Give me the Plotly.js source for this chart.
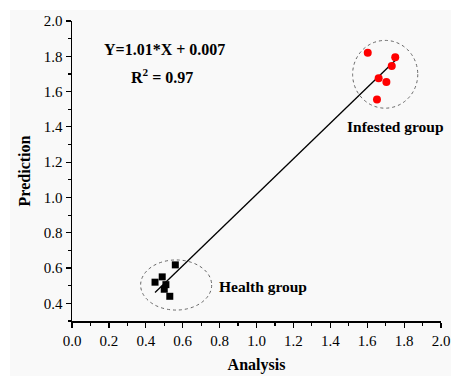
<!DOCTYPE html>
<html>
<head>
<meta charset="utf-8">
<script src="https://cdn.plot.ly/plotly-3.0.1.min.js"></script>
<style>
html,body{margin:0;padding:0;background:#ffffff;}
#chart{position:absolute;left:10px;top:10px;width:441px;height:366px;}
</style>
</head>
<body>
<div id="chart"></div>
<script>
// Data
const healthX = [0.560, 0.489, 0.450, 0.509, 0.500, 0.530];
const healthY = [0.618, 0.550, 0.520, 0.506, 0.480, 0.440];
const infestedX = [1.603, 1.752, 1.733, 1.662, 1.704, 1.653];
const infestedY = [1.820, 1.795, 1.745, 1.675, 1.655, 1.555];
const fitX = [0.45, 1.76];
const fitY = [0.462, 1.785];
const equationText = "Y=1.01*X + 0.007";
const r2Text = "R<sup>2</sup> = 0.97";
const xTitle = "Analysis";
const yTitle = "Prediction";

const F = "Liberation Serif, Times New Roman, serif";

const traces = [
  {x: fitX, y: fitY, mode: 'lines', type: 'scatter',
   line: {color: '#000000', width: 1.3}, hoverinfo: 'skip', showlegend: false},
  {x: healthX, y: healthY, mode: 'markers', type: 'scatter', name: 'Health group',
   marker: {symbol: 'square', size: 7, color: '#000000'}, showlegend: false},
  {x: infestedX, y: infestedY, mode: 'markers', type: 'scatter', name: 'Infested group',
   marker: {symbol: 'circle', size: 8, color: '#ff0000'}, showlegend: false}
];

const axisCommon = {
  showgrid: false, zeroline: false, showline: true, linecolor: '#000000', linewidth: 1.5,
  ticks: 'outside', ticklen: 5, tickwidth: 1.2, tickcolor: '#000000',
  tickfont: {family: F, size: 15, color: '#000000'},
  mirror: false
};

const layout = {
  width: 441, height: 366,
  margin: {l: 62, r: 10, t: 11, b: 55},
  paper_bgcolor: '#f9f9f9', plot_bgcolor: '#f9f9f9',
  showlegend: false,
  xaxis: Object.assign({}, axisCommon, {
    range: [0, 2.0], tick0: 0, dtick: 0.2, tickformat: '.1f',
    minor: {dtick: 0.1, tick0: 0, ticks: 'outside', ticklen: 3, tickwidth: 1.2, tickcolor: '#000000'},
    title: {text: '<b>' + xTitle + '</b>', font: {family: F, size: 16, color: '#000000'}, standoff: 11}
  }),
  yaxis: Object.assign({}, axisCommon, {
    range: [0.3, 2.0], tick0: 0, dtick: 0.2, tickformat: '.1f',
    minor: {dtick: 0.1, tick0: 0, ticks: 'outside', ticklen: 3, tickwidth: 1.2, tickcolor: '#000000'},
    title: {text: '<b>' + yTitle + '</b>', font: {family: F, size: 16, color: '#000000'}, standoff: 9}
  }),
  shapes: [
    {type: 'circle', xref: 'x', yref: 'y', x0: 1.521, x1: 1.874, y0: 1.506, y1: 1.890,
     line: {color: '#666666', width: 1, dash: 'dot'}},
    {type: 'circle', xref: 'x', yref: 'y', x0: 0.372, x1: 0.757, y0: 0.362, y1: 0.646,
     line: {color: '#666666', width: 1, dash: 'dot'}}
  ],
  annotations: [
    {x: 0.504, y: 1.838, xref: 'x', yref: 'y', text: '<b>' + equationText + '</b>', showarrow: false,
     font: {family: F, size: 16, color: '#000000'}},
    {x: 0.487, y: 1.69, xref: 'x', yref: 'y', text: '<b>' + r2Text + '</b>', showarrow: false,
     font: {family: F, size: 16, color: '#000000'}},
    {x: 1.756, y: 1.40, xref: 'x', yref: 'y', text: '<b>Infested group</b>', showarrow: false,
     font: {family: F, size: 15.5, color: '#000000'}},
    {x: 1.033, y: 0.493, xref: 'x', yref: 'y', text: '<b>Health group</b>', showarrow: false,
     font: {family: F, size: 15.5, color: '#000000'}}
  ]
};

Plotly.newPlot('chart', traces, layout, {displayModeBar: false, staticPlot: true});
</script>
</body>
</html>
